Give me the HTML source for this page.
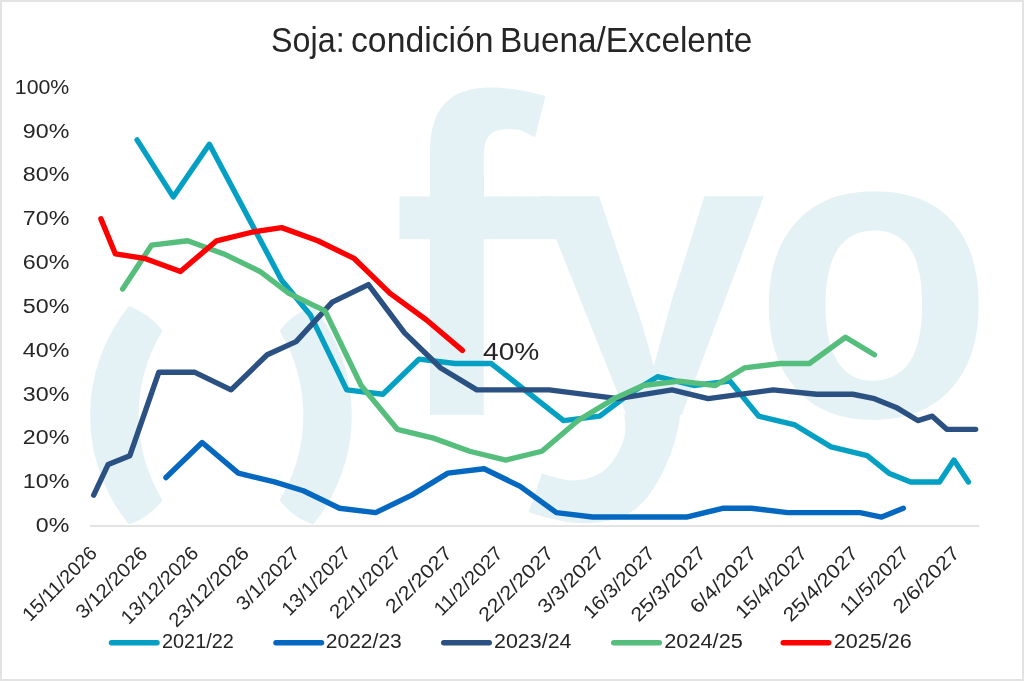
<!DOCTYPE html>
<html lang="es"><head><meta charset="utf-8"><title>Soja: condición Buena/Excelente</title>
<style>html,body{margin:0;padding:0;background:#fff;}svg{display:block;}text{font-family:"Liberation Sans",sans-serif;fill:#262626;}</style>
</head><body>
<svg width="1024" height="681" viewBox="0 0 1024 681">
<rect x="0" y="0" width="1024" height="681" fill="#ffffff"/>
<rect x="1" y="1" width="1022" height="679" fill="none" stroke="#e3e3e3" stroke-width="2"/>
<g fill="#e4f2f6" stroke="none">
<path d="M129,306.1 A173,173 0 0 0 129,524.6 Q149.3,517.3 162.5,500.2 A162.5,162.5 0 0 1 162.5,330.7 Q149.3,313.6 129,306.1 Z"/>
<path d="M313,306.1 A173,173 0 0 1 313,524.6 Q292.7,517.3 279.5,500.2 A162.5,162.5 0 0 0 279.5,330.7 Q292.7,313.6 313,306.1 Z"/>
<rect x="399.5" y="196.5" width="158" height="42.75"/>
<path d="M523,90.6 L545.5,96 L535,137.5 L523,131.2 Z"/>
</g>
<defs><clipPath id="fclip"><path d="M430,80 H600 V170 H484 V420 H430 Z M530,185 H766 V415 H530 Z M766,185 H1000 V600 H766 Z"/></clipPath></defs>
<text clip-path="url(#fclip)" style="font-weight:bold;fill:#e4f2f6"><tspan x="393" y="415" textLength="130.8" lengthAdjust="spacingAndGlyphs" style="font-size:452px">f</tspan><tspan x="535.8" y="415" style="font-size:414px">y</tspan><tspan x="753.3" y="415.9" textLength="240.8" lengthAdjust="spacingAndGlyphs" style="font-size:417.6px">o</tspan></text>
<path fill="#e4f2f6" d="M680.0,414.5 Q679.5,424.0 675.6,438.4 Q671.8,452.7 665.2,467.0 Q658.6,481.3 650.9,492.3 Q643.2,503.3 635.5,508.9 Q627.8,514.4 619.0,517.7 Q610.1,521.0 599.1,522.3 Q588.1,523.6 578.0,523.0 Q568.0,522.5 559.4,520.5 Q550.7,518.5 539.7,515.4 L528.6,512.2 L541.9,473.6 Q559.5,479.1 568.3,480.2 Q577.1,481.3 585.9,479.1 Q594.7,476.9 601.3,472.5 Q607.9,468.1 613.4,460.4 Q618.9,452.7 622.6,442.8 Q626.3,432.9 625.2,423.7 L624.2,414.5 Z"/>
<line x1="90" y1="526" x2="979.3" y2="526" stroke="#dadada" stroke-width="1.5"/>
<polyline points="137.07,139.92 173.22,196.92 209.36,144.30 281.65,280.24 310.57,315.32 346.72,389.86 382.86,394.25 419.00,359.17 455.15,363.55 491.30,363.55 563.59,420.56 599.73,416.17 628.65,394.25 657.56,376.71 693.71,385.48 729.85,381.09 758.77,416.17 794.91,424.94 831.06,446.87 867.20,455.64 888.89,473.18 910.58,481.95 939.49,481.95 953.95,460.02 968.41,481.95" fill="none" stroke="#04a0c4" stroke-width="5.4" stroke-linejoin="round" stroke-linecap="round"/>
<polyline points="165.99,477.56 202.13,442.48 238.28,473.18 274.43,481.95 303.34,490.72 339.49,508.26 375.63,512.64 411.78,495.10 447.92,473.18 484.07,468.79 520.21,486.33 556.36,512.64 592.50,517.03 686.48,517.03 722.62,508.26 751.54,508.26 787.68,512.64 859.97,512.64 881.66,517.03 903.35,508.26" fill="none" stroke="#0468c0" stroke-width="5.4" stroke-linejoin="round" stroke-linecap="round"/>
<polyline points="93.70,495.10 108.16,464.41 129.84,455.64 158.76,372.32 194.91,372.32 231.05,389.86 267.20,354.78 296.11,341.63 332.26,302.16 368.40,284.62 404.55,332.86 440.69,367.94 476.84,389.86 549.13,389.86 617.80,398.63 672.02,389.86 708.17,398.63 773.23,389.86 816.60,394.25 852.75,394.25 874.43,398.63 896.12,407.40 917.81,420.56 932.26,416.17 946.72,429.33 975.64,429.33" fill="none" stroke="#2b5082" stroke-width="5.4" stroke-linejoin="round" stroke-linecap="round"/>
<polyline points="122.62,289.01 151.53,245.16 187.68,240.77 223.82,253.93 259.97,271.47 288.88,293.39 325.03,310.93 361.17,385.48 397.32,429.33 433.46,438.10 469.61,451.25 505.75,460.02 541.90,451.25 578.04,420.56 614.19,398.63 643.10,385.48 679.25,381.09 715.39,385.48 744.31,367.94 780.46,363.55 809.37,363.55 845.52,337.25 874.43,354.78" fill="none" stroke="#56be7c" stroke-width="5.4" stroke-linejoin="round" stroke-linecap="round"/>
<polyline points="100.93,218.85 115.39,253.93 144.30,258.31 180.45,271.47 216.59,240.77 252.74,232.00 281.65,227.62 317.80,240.77 353.94,258.31 390.09,293.39 426.23,319.70 462.38,350.40" fill="none" stroke="#ff0000" stroke-width="5.4" stroke-linejoin="round" stroke-linecap="round"/>
<text y="52.3" style="font-size:35px"><tspan x="271.1" textLength="73.5" lengthAdjust="spacingAndGlyphs">Soja:</tspan> <tspan x="351" textLength="142.6" lengthAdjust="spacingAndGlyphs">condición</tspan> <tspan x="500.1" textLength="252.2" lengthAdjust="spacingAndGlyphs">Buena/Excelente</tspan></text>
<text x="69.3" y="532.00" text-anchor="end" textLength="33.50" lengthAdjust="spacingAndGlyphs" style="font-size:19.5px">0%</text>
<text x="69.3" y="488.18" text-anchor="end" textLength="46.50" lengthAdjust="spacingAndGlyphs" style="font-size:19.5px">10%</text>
<text x="69.3" y="444.36" text-anchor="end" textLength="46.50" lengthAdjust="spacingAndGlyphs" style="font-size:19.5px">20%</text>
<text x="69.3" y="400.54" text-anchor="end" textLength="46.50" lengthAdjust="spacingAndGlyphs" style="font-size:19.5px">30%</text>
<text x="69.3" y="356.72" text-anchor="end" textLength="46.50" lengthAdjust="spacingAndGlyphs" style="font-size:19.5px">40%</text>
<text x="69.3" y="312.90" text-anchor="end" textLength="46.50" lengthAdjust="spacingAndGlyphs" style="font-size:19.5px">50%</text>
<text x="69.3" y="269.08" text-anchor="end" textLength="46.50" lengthAdjust="spacingAndGlyphs" style="font-size:19.5px">60%</text>
<text x="69.3" y="225.26" text-anchor="end" textLength="46.50" lengthAdjust="spacingAndGlyphs" style="font-size:19.5px">70%</text>
<text x="69.3" y="181.44" text-anchor="end" textLength="46.50" lengthAdjust="spacingAndGlyphs" style="font-size:19.5px">80%</text>
<text x="69.3" y="137.62" text-anchor="end" textLength="46.50" lengthAdjust="spacingAndGlyphs" style="font-size:19.5px">90%</text>
<text x="69.3" y="93.80" text-anchor="end" textLength="54.50" lengthAdjust="spacingAndGlyphs" style="font-size:19.5px">100%</text>
<text x="483.1" y="360" textLength="56.3" lengthAdjust="spacingAndGlyphs" style="font-size:24.4px">40%</text>
<text transform="translate(98.00,554.50) rotate(-45)" x="-95.66" y="0" textLength="95.7" lengthAdjust="spacingAndGlyphs" style="font-size:19.5px">15/11/2026</text>
<text transform="translate(148.75,554.50) rotate(-45)" x="-92.40" y="0" textLength="92.4" lengthAdjust="spacingAndGlyphs" style="font-size:19.5px">3/12/2026</text>
<text transform="translate(199.50,554.50) rotate(-45)" x="-99.96" y="0" textLength="100.0" lengthAdjust="spacingAndGlyphs" style="font-size:19.5px">13/12/2026</text>
<text transform="translate(250.25,554.50) rotate(-45)" x="-104.27" y="0" textLength="104.3" lengthAdjust="spacingAndGlyphs" style="font-size:19.5px">23/12/2026</text>
<text transform="translate(301.00,554.50) rotate(-45)" x="-80.53" y="0" textLength="80.5" lengthAdjust="spacingAndGlyphs" style="font-size:19.5px">3/1/2027</text>
<text transform="translate(351.75,554.50) rotate(-45)" x="-88.09" y="0" textLength="88.1" lengthAdjust="spacingAndGlyphs" style="font-size:19.5px">13/1/2027</text>
<text transform="translate(402.50,554.50) rotate(-45)" x="-92.40" y="0" textLength="92.4" lengthAdjust="spacingAndGlyphs" style="font-size:19.5px">22/1/2027</text>
<text transform="translate(453.25,554.50) rotate(-45)" x="-84.84" y="0" textLength="84.8" lengthAdjust="spacingAndGlyphs" style="font-size:19.5px">2/2/2027</text>
<text transform="translate(504.00,554.50) rotate(-45)" x="-88.09" y="0" textLength="88.1" lengthAdjust="spacingAndGlyphs" style="font-size:19.5px">11/2/2027</text>
<text transform="translate(554.75,554.50) rotate(-45)" x="-96.70" y="0" textLength="96.7" lengthAdjust="spacingAndGlyphs" style="font-size:19.5px">22/2/2027</text>
<text transform="translate(605.50,554.50) rotate(-45)" x="-84.84" y="0" textLength="84.8" lengthAdjust="spacingAndGlyphs" style="font-size:19.5px">3/3/2027</text>
<text transform="translate(656.25,554.50) rotate(-45)" x="-92.40" y="0" textLength="92.4" lengthAdjust="spacingAndGlyphs" style="font-size:19.5px">16/3/2027</text>
<text transform="translate(707.00,554.50) rotate(-45)" x="-96.70" y="0" textLength="96.7" lengthAdjust="spacingAndGlyphs" style="font-size:19.5px">25/3/2027</text>
<text transform="translate(757.75,554.50) rotate(-45)" x="-84.84" y="0" textLength="84.8" lengthAdjust="spacingAndGlyphs" style="font-size:19.5px">6/4/2027</text>
<text transform="translate(808.50,554.50) rotate(-45)" x="-92.40" y="0" textLength="92.4" lengthAdjust="spacingAndGlyphs" style="font-size:19.5px">15/4/2027</text>
<text transform="translate(859.25,554.50) rotate(-45)" x="-96.70" y="0" textLength="96.7" lengthAdjust="spacingAndGlyphs" style="font-size:19.5px">25/4/2027</text>
<text transform="translate(910.00,554.50) rotate(-45)" x="-88.09" y="0" textLength="88.1" lengthAdjust="spacingAndGlyphs" style="font-size:19.5px">11/5/2027</text>
<text transform="translate(960.75,554.50) rotate(-45)" x="-84.84" y="0" textLength="84.8" lengthAdjust="spacingAndGlyphs" style="font-size:19.5px">2/6/2027</text>
<line x1="111.45" y1="642.8" x2="157.05" y2="642.8" stroke="#04a0c4" stroke-width="5.4" stroke-linecap="round"/>
<text x="162.00" y="648.4" textLength="71.80" lengthAdjust="spacingAndGlyphs" style="font-size:19.5px">2021/22</text>
<line x1="275.95" y1="642.8" x2="321.55" y2="642.8" stroke="#0468c0" stroke-width="5.4" stroke-linecap="round"/>
<text x="325.80" y="648.4" textLength="76.00" lengthAdjust="spacingAndGlyphs" style="font-size:19.5px">2022/23</text>
<line x1="443.70" y1="642.8" x2="489.30" y2="642.8" stroke="#2b5082" stroke-width="5.4" stroke-linecap="round"/>
<text x="494.00" y="648.4" textLength="77.50" lengthAdjust="spacingAndGlyphs" style="font-size:19.5px">2023/24</text>
<line x1="613.70" y1="642.8" x2="659.30" y2="642.8" stroke="#56be7c" stroke-width="5.4" stroke-linecap="round"/>
<text x="664.30" y="648.4" textLength="78.50" lengthAdjust="spacingAndGlyphs" style="font-size:19.5px">2024/25</text>
<line x1="783.20" y1="642.8" x2="828.80" y2="642.8" stroke="#ff0000" stroke-width="5.4" stroke-linecap="round"/>
<text x="833.80" y="648.4" textLength="78.00" lengthAdjust="spacingAndGlyphs" style="font-size:19.5px">2025/26</text>
</svg>
</body></html>
